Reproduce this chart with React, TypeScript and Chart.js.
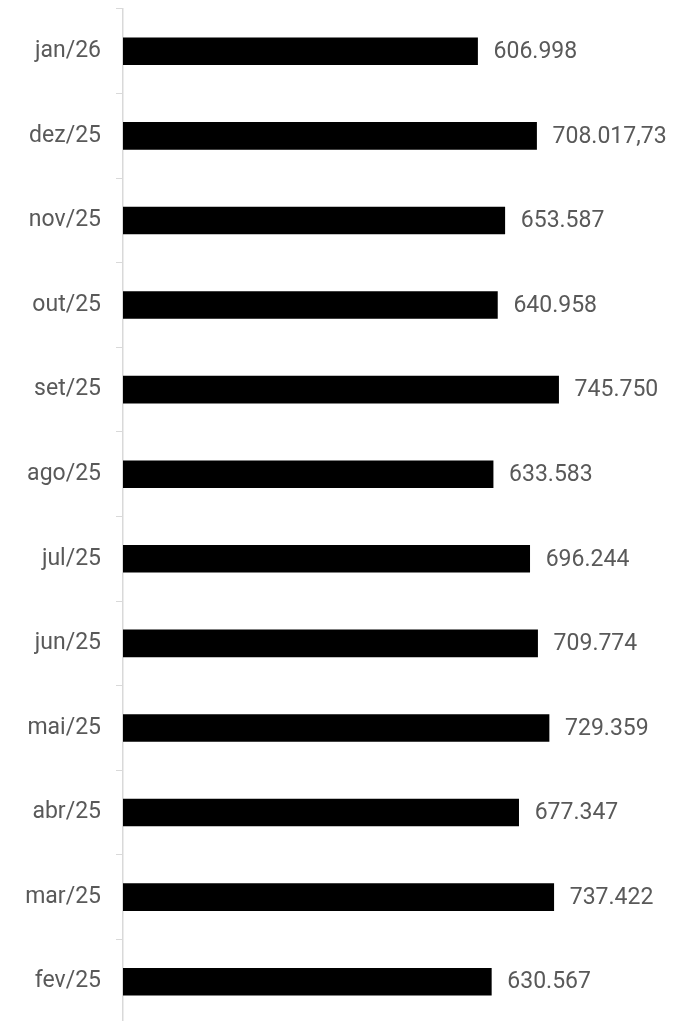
import React, { useEffect, useRef } from "react";
import { Chart, registerables } from "chart.js";

Chart.register(...registerables);

const categories = ["jan/26", "dez/25", "nov/25", "out/25", "set/25", "ago/25", "jul/25", "jun/25", "mai/25", "abr/25", "mar/25", "fev/25"];
const values = [606998, 708017.73, 653587, 640958, 745750, 633583, 696244, 709774, 729359, 677347, 737422, 630567];

const TEXT = "#595959";
const AXIS = "#d9d9d9";
const FONT = "Roboto";

function fmt(v: number): string {
  const neg = v < 0;
  const a = Math.abs(v);
  const int = Math.floor(a);
  const frac = Math.round((a - int) * 100);
  const s = String(int).replace(/\B(?=(\d{3})+(?!\d))/g, ".");
  return (neg ? "-" : "") + s + (frac ? "," + String(frac).padStart(2, "0") : "");
}

const valueLabels = {
  id: "valueLabels",
  afterDatasetsDraw(chart: any) {
    const ctx = chart.ctx;
    const meta = chart.getDatasetMeta(0);
    ctx.save();
    ctx.font = `23px ${FONT}`;
    ctx.fillStyle = TEXT;
    ctx.textAlign = "left";
    ctx.textBaseline = "middle";
    meta.data.forEach((bar: any, i: number) => {
      ctx.fillText(fmt(values[i]), bar.x + 16, bar.y + 1);
    });
    ctx.restore();
  },
};

export default function App() {
  const ref = useRef<HTMLCanvasElement>(null);
  useEffect(() => {
    const chart = new Chart(ref.current!, {
      type: "bar",
      data: {
        labels: categories,
        datasets: [{ data: values, backgroundColor: "#000000", borderWidth: 0, barThickness: 27 }],
      },
      options: {
        indexAxis: "y",
        responsive: false,
        animation: false,
        layout: { padding: { top: 9, right: 0, bottom: 0, left: 0 } },
        plugins: { legend: { display: false }, tooltip: { enabled: false } },
        scales: {
          x: { display: false, min: 0, max: 945000 },
          y: {
            afterFit: (s: any) => {
              s.width = 123;
              s.paddingTop = 0;
              s.paddingBottom = 0;
            },
            grid: { offset: true, drawOnChartArea: false, tickLength: 7, color: AXIS, lineWidth: 1 },
            border: { color: AXIS, width: 1.5 },
            ticks: { color: TEXT, font: { family: FONT, size: 23 }, padding: 15 },
          },
        },
      },
      plugins: [valueLabels],
    });
    return () => chart.destroy();
  }, []);
  return (
    <div style={{ position: "fixed", left: 0, top: 0, width: 675, height: 1021, overflow: "hidden", background: "#fff" }}>
      <canvas ref={ref} width={675} height={1024} style={{ width: 675, height: 1024 }} />
    </div>
  );
}
